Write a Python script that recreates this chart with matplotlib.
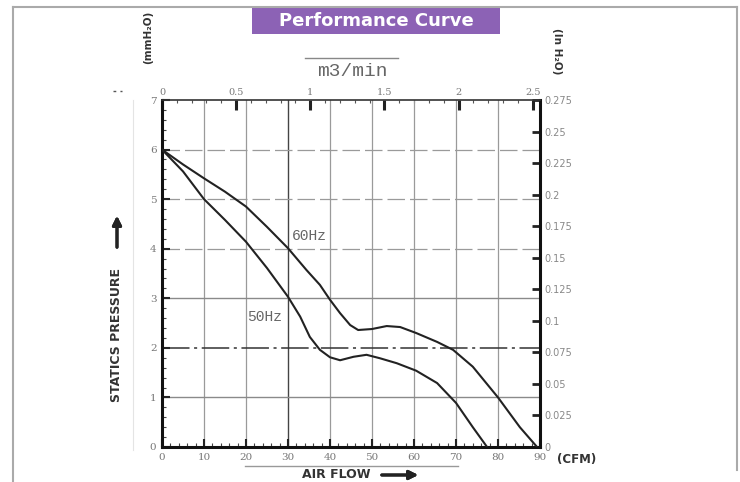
import matplotlib
matplotlib.use("Agg")
import matplotlib.pyplot as plt
from matplotlib.lines import Line2D
from matplotlib.patches import Rectangle

# fan curve: air flow (CFM) vs static pressure (mmH2O)
cfm_60 = [0, 5, 10, 15, 20, 25, 30, 34.4, 37.6, 40, 42.4, 44.8, 46.7, 50, 53.5, 56.7,
          60.5, 65.5, 69.3, 74, 80, 85.2, 89.3]
p_60 = [6.0, 5.7, 5.42, 5.15, 4.85, 4.44, 4.01, 3.57, 3.27, 2.97, 2.70, 2.46, 2.36, 2.38, 2.44, 2.42,
        2.3, 2.12, 1.96, 1.62, 1.0, 0.4, 0]

cfm_50 = [0, 5, 10, 15, 20, 25, 30, 32.9, 35.2, 37.6, 40, 42.4, 45.6, 48.7, 51.9, 55.9,
          60.5, 65.5, 70, 74, 77.4]
p_50 = [6.0, 5.56, 5.0, 4.58, 4.14, 3.61, 3.03, 2.63, 2.22, 1.96, 1.81, 1.75, 1.82, 1.86, 1.79, 1.69,
        1.54, 1.29, 0.89, 0.4, 0]

cfm_ticks = [0, 10, 20, 30, 40, 50, 60, 70, 80, 90]
mm_ticks = [0, 1, 2, 3, 4, 5, 6, 7]
m3_ticks = [0, 0.5, 1, 1.5, 2, 2.5]
m3_labels = ["0", "0.5", "1", "1.5", "2", "2.5"]
inch_ticks = [0, 0.025, 0.05, 0.075, 0.1, 0.125, 0.15, 0.175, 0.2, 0.225, 0.25, 0.275]
inch_labels = ["0", "0.025", "0.05", "0.075", "0.1", "0.125", "0.15", "0.175", "0.2", "0.225", "0.25", "0.275"]

W, H = 740, 482
CFM_PER_M3 = 35.31
MM_PER_INCH = 7 / 0.275


def fx(px):
    return px / W


def fy(py):
    return 1 - py / H


fig = plt.figure(figsize=(7.4, 4.82), dpi=100)
ax = fig.add_axes([fx(162), fy(447), (540 - 162) / W, (447 - 100) / H])
ax.set_xlim(0, 90)
ax.set_ylim(0, 7)

# grid, a bit patchy like the scan
for x in cfm_ticks[1:-1]:
    c = '#444444' if x == 30 else '#9a9a9a'
    ax.axvline(x, color=c, lw=1.0 if x == 30 else 0.9, zorder=1)
for y in mm_ticks[1:-1]:
    if y in (4, 5, 6):
        ax.axhline(y, color='#9a9a9a', lw=0.9, ls=(0, (14, 4)), zorder=1)
    elif y == 2:
        ax.axhline(y, color='#333333', lw=1.1, ls=(0, (18, 3, 2, 3)), zorder=1)
    else:
        ax.axhline(y, color='#8a8a8a', lw=1.0, zorder=1)

ax.plot(cfm_60, p_60, color='#222222', lw=1.5, zorder=3)
ax.plot(cfm_50, p_50, color='#222222', lw=1.5, zorder=3)

ax.text(31, 4.25, "60Hz", family='Liberation Mono', fontsize=10.5, color='#666666', va='center')
ax.text(20.2, 2.62, "50Hz", family='Liberation Mono', fontsize=10.5, color='#666666', va='center')

for side in ['left', 'bottom', 'right']:
    ax.spines[side].set_linewidth(2.2)
    ax.spines[side].set_color('#111111')
ax.spines['top'].set_linewidth(1.2)
ax.spines['top'].set_color('#333333')

ax.set_xticks(cfm_ticks)
ax.set_yticks(mm_ticks)
ax.set_xticks(range(0, 91, 2), minor=True)
ax.set_yticks([i * 0.2 for i in range(36)], minor=True)
ax.tick_params(which='major', direction='in', length=6, width=1.5, colors='#222222',
               labelcolor='#777777', labelsize=7.5, pad=4)
ax.tick_params(which='minor', direction='in', length=3, width=0.8, colors='#444444')
for lab in ax.get_xticklabels() + ax.get_yticklabels():
    lab.set_family('DejaVu Serif')

# top axis m3/min
top = ax.secondary_xaxis('top', functions=(lambda c: c / CFM_PER_M3, lambda m: m * CFM_PER_M3))
top.set_xticks(m3_ticks)
top.set_xticklabels(m3_labels)
top.set_xticks([i * 0.1 for i in range(26)], minor=True)
top.tick_params(which='major', direction='in', length=7, width=2.2, colors='#222222',
                labelcolor='#777777', labelsize=7, pad=2)
top.tick_params(which='minor', direction='in', length=2, width=0.8, colors='#555555')
top.spines['top'].set_visible(False)
for lab in top.get_xticklabels():
    lab.set_family('DejaVu Serif')

# right axis in H2O
right = ax.secondary_yaxis('right', functions=(lambda p: p / MM_PER_INCH, lambda h: h * MM_PER_INCH))
right.set_yticks(inch_ticks)
right.set_yticklabels(inch_labels)
right.tick_params(which='major', direction='in', length=6, width=2, colors='#222222',
                  labelcolor='#888888', labelsize=7, pad=3)
right.spines['right'].set_visible(False)

# page frame
fig.add_artist(Line2D([fx(13), fx(13)], [fy(7), fy(482)], color='#aaaaaa', lw=1.5))
fig.add_artist(Line2D([fx(13), fx(737)], [fy(7), fy(7)], color='#aaaaaa', lw=1.5))
fig.add_artist(Line2D([fx(737), fx(737)], [fy(7), fy(470)], color='#aaaaaa', lw=1.5))
fig.add_artist(Line2D([fx(133), fx(133)], [fy(100), fy(450)], color='#e4e4e4', lw=0.8))

# title box
fig.add_artist(Rectangle((fx(252), fy(34)), (500 - 252) / W, 26 / H, transform=fig.transFigure,
                         fc='#8c62b5', ec='none'))
fig.text(fx(376), fy(21), "Performance Curve", ha='center', va='center', color='white',
         fontsize=13, fontweight='bold', family='DejaVu Sans')

fig.text(fx(352), fy(72), "m3/min", ha='center', va='center', family='Liberation Mono',
         fontsize=14, color='#666666')
fig.add_artist(Line2D([fx(305), fx(398)], [fy(58), fy(58)], color='#888888', lw=1))
fig.add_artist(Line2D([fx(245), fx(458)], [fy(466), fy(466)], color='#999999', lw=1))
fig.add_artist(Line2D([fx(113), fx(122)], [fy(91), fy(91)], color='#555555', lw=1, ls=(0, (2, 3))))

fig.text(fx(148), fy(37), "(mmH\u2082O)", rotation=90, ha='center', va='center',
         fontsize=7.5, fontweight='bold', color='#333333')
fig.text(fx(557), fy(51), "(In H\u2082O)", rotation=270, ha='center', va='center',
         fontsize=7.5, fontweight='bold', color='#333333')
fig.text(fx(577), fy(459), "(CFM)", ha='center', va='center', fontsize=8.5,
         fontweight='bold', color='#333333')

fig.text(fx(117), fy(335), "STATICS PRESSURE", rotation=90, ha='center', va='center',
         fontsize=9, fontweight='bold', color='#333333')
fig.add_artist(plt.annotate("", xy=(fx(117), fy(213)), xytext=(fx(117), fy(250)),
                            xycoords='figure fraction', textcoords='figure fraction',
                            arrowprops=dict(arrowstyle='-|>', color='#222222', lw=2.2,
                                            mutation_scale=13)))

fig.text(fx(336), fy(475), "AIR FLOW", ha='center', va='center', fontsize=9,
         fontweight='bold', color='#333333')
fig.add_artist(plt.annotate("", xy=(fx(421), fy(475)), xytext=(fx(379), fy(475)),
                            xycoords='figure fraction', textcoords='figure fraction',
                            arrowprops=dict(arrowstyle='-|>', color='#222222', lw=2.2,
                                            mutation_scale=13)))

fig.savefig("out.png", dpi=100)
